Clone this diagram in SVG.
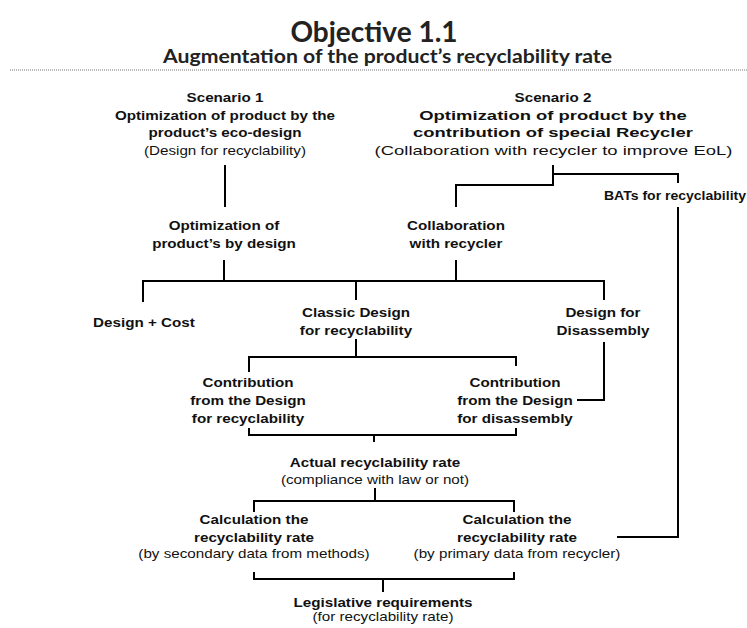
<svg xmlns="http://www.w3.org/2000/svg" width="747" height="628" viewBox="0 0 747 628">
<style>
text{font-family:"Liberation Sans",Arial,sans-serif;fill:#111;text-anchor:middle}
.b{font-weight:bold;font-size:13px}
.r{font-size:13px}
.w{transform-box:fill-box;transform-origin:center;transform:scaleX(1.17)}
.ww{transform-box:fill-box;transform-origin:center;transform:scaleX(1.42)}
.title{font-family:Lato,"Liberation Sans",sans-serif;font-weight:bold;font-size:28px;fill:#222}
.sub{font-family:Lato,"Liberation Sans",sans-serif;font-weight:bold;font-size:18px;fill:#222}
.c{fill:none;stroke:#000;stroke-width:2}
</style>
<rect width="747" height="628" fill="#fff"/>
<g id="header">
<text class="title" x="374" y="42">Objective 1.1</text>
<text class="sub" x="387.5" y="63" textLength="449" lengthAdjust="spacingAndGlyphs">Augmentation of the product’s recyclability rate</text>
<line x1="10" y1="70" x2="747" y2="70" stroke="#777" stroke-width="1.2" stroke-dasharray="1 1"/>
</g>
<g id="connectors" class="c">
<path d="M225,165V207"/>
<path d="M224,260V281"/>
<path d="M456,260V281"/>
<path d="M143,302V281H604V300"/>
<path d="M356,281V300"/>
<path d="M553,165V185H456V207"/>
<path d="M553,174H678V183"/>
<path d="M678,207V537H617"/>
<path d="M356,339V357"/>
<path d="M249,372V357H516V366"/>
<path d="M604,342V400H577"/>
<path d="M249,428V435H516V428"/>
<path d="M374,435V442"/>
<path d="M375,488V501"/>
<path d="M254,512V501H514V512"/>
<path d="M254,572V579H514V572"/>
<path d="M383,579V592"/>
</g>
<g id="scenario1">
<text class="b w" x="225" y="102">Scenario 1</text>
<text class="b w" x="225" y="120">Optimization of product by the</text>
<text class="b w" x="225" y="137">product’s eco-design</text>
<text class="r w" x="225" y="155">(Design for recyclability)</text>
</g>
<g id="scenario2">
<text class="b w" x="553" y="102">Scenario 2</text>
<text class="b ww" x="553" y="120">Optimization of product by the</text>
<text class="b ww" x="553" y="137">contribution of special Recycler</text>
<text class="r ww" x="553.5" y="155">(Collaboration with recycler to improve EoL)</text>
</g>
<g id="bats">
<text class="b" x="604" y="200" style="text-anchor:start" textLength="142" lengthAdjust="spacingAndGlyphs">BATs for recyclability</text>
</g>
<g id="opt-design">
<text class="b w" x="224" y="230">Optimization of</text>
<text class="b w" x="224" y="248">product’s by design</text>
</g>
<g id="collab">
<text class="b w" x="456" y="230">Collaboration</text>
<text class="b w" x="456" y="248">with recycler</text>
</g>
<g id="design-cost">
<text class="b w" x="144" y="327">Design + Cost</text>
</g>
<g id="classic">
<text class="b w" x="356" y="317">Classic Design</text>
<text class="b w" x="356" y="335">for recyclability</text>
</g>
<g id="dfd">
<text class="b w" x="603" y="317">Design for</text>
<text class="b w" x="603" y="335">Disassembly</text>
</g>
<g id="contrib-r">
<text class="b w" x="248" y="387">Contribution</text>
<text class="b w" x="248" y="405">from the Design</text>
<text class="b w" x="248" y="423">for recyclability</text>
</g>
<g id="contrib-d">
<text class="b w" x="515" y="387">Contribution</text>
<text class="b w" x="515" y="405">from the Design</text>
<text class="b w" x="515" y="423">for disassembly</text>
</g>
<g id="actual">
<text class="b w" x="375" y="467">Actual recyclability rate</text>
<text class="r w" x="375" y="484">(compliance with law or not)</text>
</g>
<g id="calc-sec">
<text class="b w" x="254" y="524">Calculation the</text>
<text class="b w" x="254" y="542">recyclability rate</text>
<text class="r w" x="254" y="558">(by secondary data from methods)</text>
</g>
<g id="calc-prim">
<text class="b w" x="517" y="524">Calculation the</text>
<text class="b w" x="517" y="542">recyclability rate</text>
<text class="r w" x="517" y="558">(by primary data from recycler)</text>
</g>
<g id="legis">
<text class="b w" x="383" y="607">Legislative requirements</text>
<text class="r w" x="383" y="621">(for recyclability rate)</text>
</g>
</svg>
